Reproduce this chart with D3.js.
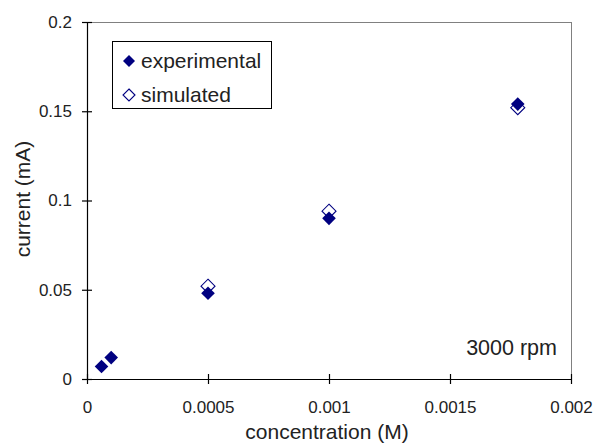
<!DOCTYPE html>
<html><head><meta charset="utf-8">
<script src="https://cdn.jsdelivr.net/npm/d3@7"></script>
<style>
html,body{margin:0;padding:0;background:#fff;}
svg text{font-family:"Liberation Sans",Arial,sans-serif;fill:#222;}
</style></head>
<body><svg id="c" width="594" height="446"></svg>
<script>
const concentration = [0.00006, 0.0001, 0.0005, 0.001, 0.00178];
const experimental = [0.007, 0.012, 0.048, 0.090, 0.154];
const simulatedConc = [0.0005, 0.001, 0.00178];
const simulated = [0.052, 0.094, 0.152];
const xTicks = [0, 0.0005, 0.001, 0.0015, 0.002];
const xTickLabels = ["0", "0.0005", "0.001", "0.0015", "0.002"];
const yTicks = [0, 0.05, 0.1, 0.15, 0.2];
const yTickLabels = ["0", "0.05", "0.1", "0.15", "0.2"];
const legendLabels = ["experimental", "simulated"];

const svg = d3.select("#c");
const x = d3.scaleLinear().domain([0, 0.002]).range([87, 571]);
const y = d3.scaleLinear().domain([0, 0.2]).range([379, 22]);

// plot frame (top/right gray)
svg.append("line").attr("x1", 87).attr("x2", 571).attr("y1", 22.5).attr("y2", 22.5).attr("stroke", "#808080").attr("stroke-width", 1);
svg.append("line").attr("x1", 571.5).attr("x2", 571.5).attr("y1", 22).attr("y2", 379).attr("stroke", "#808080").attr("stroke-width", 1);

// axes
const xAxis = d3.axisBottom(x).tickValues(xTicks).tickFormat((d, i) => xTickLabels[i]).tickSizeInner(5).tickSizeOuter(0).tickPadding(17);
const gx = svg.append("g").attr("transform", "translate(0,379)").call(xAxis);
gx.selectAll(".tick line").attr("y1", -5).attr("y2", 5);
const yAxis = d3.axisLeft(y).tickValues(yTicks).tickFormat((d, i) => yTickLabels[i]).tickSizeInner(5).tickSizeOuter(0).tickPadding(10);
const gy = svg.append("g").attr("transform", "translate(87,0)").call(yAxis);
gy.selectAll(".tick line").attr("x1", -5).attr("x2", 5);
[gx, gy].forEach(g => {
  g.select(".domain").attr("stroke", "#000").attr("stroke-width", 1.2);
  g.selectAll(".tick line").attr("stroke", "#000").attr("stroke-width", 1.2);
  g.selectAll(".tick text").style("font-size", "17px").attr("fill", "#222");
});
gx.select(".domain").attr("d", "M82,0.5H571");

function diamond(r) { return `M0,${-r}L${r},0L0,${r}L${-r},0Z`; }

// simulated (hollow) drawn first
svg.append("g").selectAll("path").data(simulatedConc).join("path")
  .attr("d", diamond(7))
  .attr("transform", (d, i) => `translate(${x(d)},${y(simulated[i])})`)
  .attr("fill", "#fff").attr("stroke", "#000080").attr("stroke-width", 1.1);
// experimental (filled)
svg.append("g").selectAll("path").data(concentration).join("path")
  .attr("d", diamond(6.8))
  .attr("transform", (d, i) => `translate(${x(d)},${y(experimental[i])})`)
  .attr("fill", "#000080");

// legend
svg.append("rect").attr("x", 112.5).attr("y", 41.5).attr("width", 159).attr("height", 67)
  .attr("fill", "#fff").attr("stroke", "#000").attr("stroke-width", 1);
svg.append("path").attr("d", diamond(6)).attr("transform", "translate(129,61)").attr("fill", "#000080");
svg.append("path").attr("d", diamond(6)).attr("transform", "translate(129,95)").attr("fill", "#fff").attr("stroke", "#000080").attr("stroke-width", 1.1);
svg.append("text").attr("x", 141).attr("y", 68).style("font-size", "21px").text(legendLabels[0]);
svg.append("text").attr("x", 141).attr("y", 102).style("font-size", "21px").text(legendLabels[1]);

// annotation
svg.append("text").attr("x", 557).attr("y", 355).attr("text-anchor", "end").style("font-size", "21.5px").text("3000 rpm");

// axis titles
svg.append("text").attr("x", 327).attr("y", 439).attr("text-anchor", "middle").style("font-size", "21px").text("concentration (M)");
svg.append("text").attr("transform", "translate(30,199) rotate(-90)").attr("text-anchor", "middle").style("font-size", "21px").text("current (mA)");
</script></body></html>
